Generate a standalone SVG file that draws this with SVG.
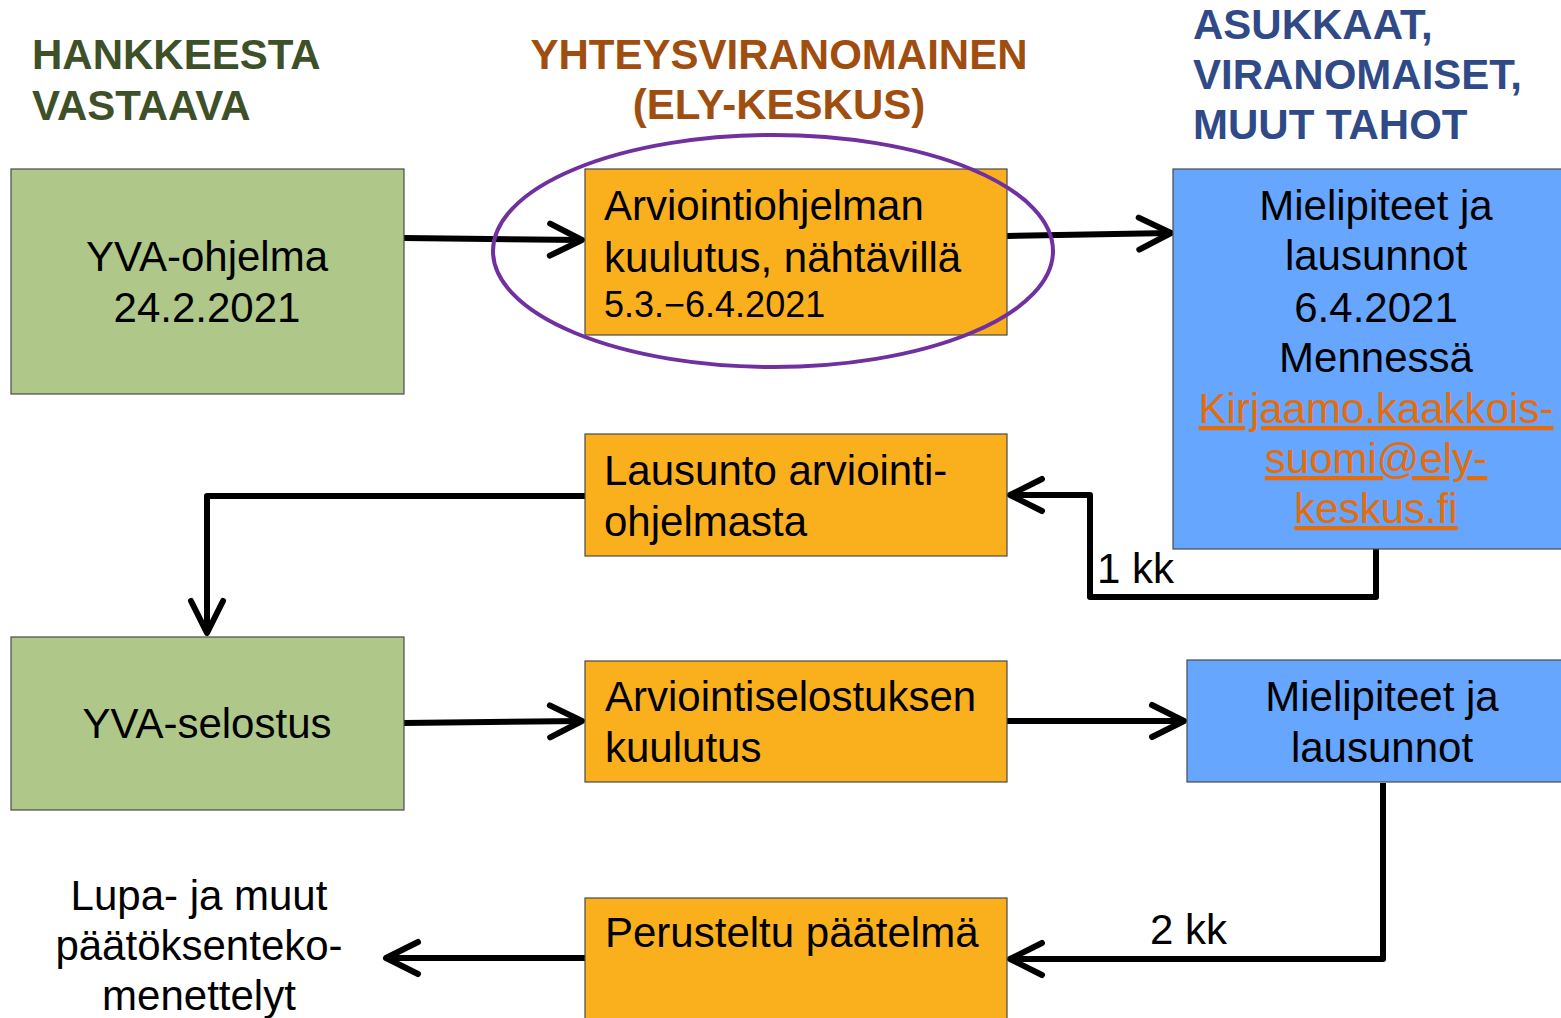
<svg xmlns="http://www.w3.org/2000/svg" width="1561" height="1018" viewBox="0 0 1561 1018">
<style>
text{font-family:"Liberation Sans",Arial,sans-serif;fill:#000}
.h{font-weight:bold;font-size:42px}
.hg{fill:#3E5027}.hb{fill:#A04E10}.hu{fill:#2F4A87}
.t{font-size:42px}
.s{font-size:36px}
.c{text-anchor:middle}
.g{fill:#B0C78A;stroke:#4a4a4a;stroke-width:1.2}
.o{fill:#FAB01D;stroke:#4a4a4a;stroke-width:1.2}
.b{fill:#66A6FF;stroke:#4a4a4a;stroke-width:1.2}
.ln{fill:none;stroke:#000;stroke-width:6;stroke-linejoin:round}
.lk{fill:#E46C0A;text-decoration:underline}
</style>
<defs>
<marker id="ah" markerUnits="userSpaceOnUse" viewBox="0 0 40 40" markerWidth="40" markerHeight="40" refX="36" refY="20" orient="auto" overflow="visible">
<path d="M4,4 L36,20 L4,36" fill="none" stroke="#000" stroke-width="6" stroke-linecap="round" stroke-linejoin="round"/>
</marker>
</defs>
<g id="headers">
<text class="h hg" x="32" y="69">HANKKEESTA</text>
<text class="h hg" x="32" y="120">VASTAAVA</text>
<text class="h hb c" x="779" y="69">YHTEYSVIRANOMAINEN</text>
<text class="h hb c" x="779" y="119">(ELY-KESKUS)</text>
<text class="h hu" x="1193" y="39">ASUKKAAT,</text>
<text class="h hu" x="1193" y="89">VIRANOMAISET,</text>
<text class="h hu" x="1193" y="139">MUUT TAHOT</text>
</g>
<g id="connectors">
<line class="ln" x1="404" y1="238" x2="582" y2="240" marker-end="url(#ah)"/>
<line class="ln" x1="1007" y1="236" x2="1171" y2="233" marker-end="url(#ah)"/>
<polyline class="ln" points="1376,549 1376,597 1090,597 1090,495 1010,495" marker-end="url(#ah)"/>
<polyline class="ln" points="585,496 207,496 207,633" marker-end="url(#ah)"/>
<line class="ln" x1="404" y1="723" x2="582" y2="721" marker-end="url(#ah)"/>
<line class="ln" x1="1007" y1="721" x2="1184" y2="721" marker-end="url(#ah)"/>
<polyline class="ln" points="1383,783 1383,959 1010,959" marker-end="url(#ah)"/>
<line class="ln" x1="585" y1="958" x2="386" y2="958" marker-end="url(#ah)"/>
<text class="t" x="1097" y="583">1 kk</text>
<text class="t" x="1150" y="944">2 kk</text>
</g>
<g id="yva-ohjelma">
<rect class="g" x="11" y="169" width="393" height="225"/>
<text class="t c" x="207" y="271">YVA-ohjelma</text>
<text class="t c" x="207" y="322">24.2.2021</text>
</g>
<g id="arviointiohjelman-kuulutus">
<rect class="o" x="585" y="169" width="422" height="166"/>
<text class="t" x="604" y="220">Arviointiohjelman</text>
<text class="t" x="604" y="272">kuulutus, nähtävillä</text>
<text class="s" x="604" y="317">5.3.−6.4.2021</text>
</g>
<g id="highlight">
<ellipse cx="773" cy="251" rx="280" ry="116" fill="none" stroke="#7030A0" stroke-width="4"/>
</g>
<g id="mielipiteet-1">
<rect class="b" x="1173" y="169" width="400" height="380"/>
<text class="t c" x="1376" y="220">Mielipiteet ja</text>
<text class="t c" x="1376" y="270">lausunnot</text>
<text class="t c" x="1376" y="322">6.4.2021</text>
<text class="t c" x="1376" y="372">Mennessä</text>
<text class="t c lk" x="1376" y="423">Kirjaamo.kaakkois-</text>
<text class="t c lk" x="1376" y="473">suomi@ely-</text>
<text class="t c lk" x="1376" y="523">keskus.fi</text>
</g>
<g id="lausunto">
<rect class="o" x="585" y="434" width="422" height="122"/>
<text class="t" x="604" y="485">Lausunto arviointi-</text>
<text class="t" x="604" y="536">ohjelmasta</text>
</g>
<g id="yva-selostus">
<rect class="g" x="11" y="637" width="393" height="173"/>
<text class="t c" x="207" y="738">YVA-selostus</text>
</g>
<g id="arviointiselostuksen-kuulutus">
<rect class="o" x="585" y="661" width="422" height="121"/>
<text class="t" x="605" y="711">Arviointiselostuksen</text>
<text class="t" x="605" y="762">kuulutus</text>
</g>
<g id="mielipiteet-2">
<rect class="b" x="1187" y="660" width="390" height="122"/>
<text class="t c" x="1382" y="711">Mielipiteet ja</text>
<text class="t c" x="1382" y="762">lausunnot</text>
</g>
<g id="perusteltu">
<rect class="o" x="585" y="898" width="422" height="140"/>
<text class="t" x="605" y="947">Perusteltu päätelmä</text>
</g>
<g id="lupa">
<text class="t c" x="199" y="910">Lupa- ja muut</text>
<text class="t c" x="199" y="960">päätöksenteko-</text>
<text class="t c" x="199" y="1010">menettelyt</text>
</g>
</svg>
